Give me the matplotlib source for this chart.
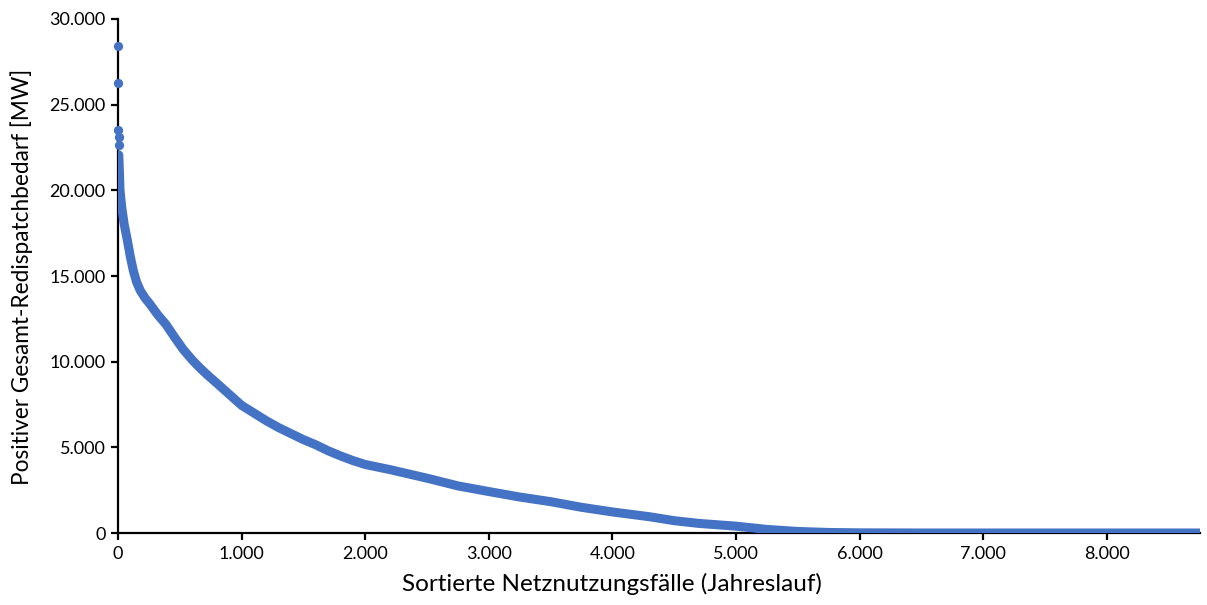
import numpy as np
import matplotlib.pyplot as plt
from matplotlib.ticker import FuncFormatter, MultipleLocator

plt.rcParams['font.family'] = ['Lato', 'DejaVu Sans']

# einzelne Spitzenwerte (erste Stunden der sortierten Reihe)
peak_hours = [1, 2, 3, 4, 5]
peak_mw = [28450, 26290, 23530, 23140, 22650]

curve_hours = [6, 10, 16, 30, 50, 75, 100, 124, 150, 180, 220, 259, 320, 390,
               460, 529, 600, 663, 730, 798, 860, 930, 1000, 1100, 1200, 1300,
               1400, 1500, 1600, 1700, 1800, 1900, 2000, 2200, 2500, 2750,
               3000, 3250, 3500, 3750, 4000, 4300, 4500, 4700, 5000, 5250,
               5500, 5760, 6000, 6500, 7000, 8000, 8760]
curve_mw = [22070, 21300, 20000, 19000, 18000, 17100, 16100, 15300, 14650,
            14150, 13700, 13350, 12750, 12150, 11400, 10700, 10100, 9630,
            9180, 8750, 8350, 7900, 7450, 7000, 6550, 6150, 5800, 5450, 5150,
            4800, 4500, 4230, 4000, 3700, 3200, 2750, 2420, 2100, 1830, 1500,
            1230, 950, 720, 560, 400, 210, 90, 30, 10, 0, 0, 0, 0]

blue = '#4472C4'

fig = plt.figure(figsize=(12.07, 6.05), dpi=100)
ax = fig.add_axes([0.0978, 0.119, 0.8964, 0.8496])

ax.plot(curve_hours, curve_mw, color=blue, lw=6.5, solid_capstyle='round',
        solid_joinstyle='round', zorder=3)
ax.scatter(peak_hours, peak_mw, s=32, color=blue, zorder=3, clip_on=False)

ax.set_xlim(0, 8755)
ax.set_ylim(0, 30000)
ax.xaxis.set_major_locator(MultipleLocator(1000))
ax.yaxis.set_major_locator(MultipleLocator(5000))

fmt = FuncFormatter(lambda v, p: f'{int(v):,}'.replace(',', '.'))
ax.xaxis.set_major_formatter(fmt)
ax.yaxis.set_major_formatter(fmt)

for s in ['top', 'right']:
    ax.spines[s].set_visible(False)
for s in ['left', 'bottom']:
    ax.spines[s].set_linewidth(1.6)
    ax.spines[s].set_color('black')
ax.tick_params(direction='out', length=5, width=1.6, labelsize=13, pad=4)

ax.set_xlabel('Sortierte Netznutzungsfälle (Jahreslauf)', fontsize=17.5)
ax.set_ylabel('Positiver Gesamt-Redispatchbedarf [MW]', fontsize=16.3)
ax.xaxis.set_label_coords(0.4566, -0.078)
ax.yaxis.set_label_coords(-0.079, 0.498)

fig.savefig('out.png', dpi=100)
